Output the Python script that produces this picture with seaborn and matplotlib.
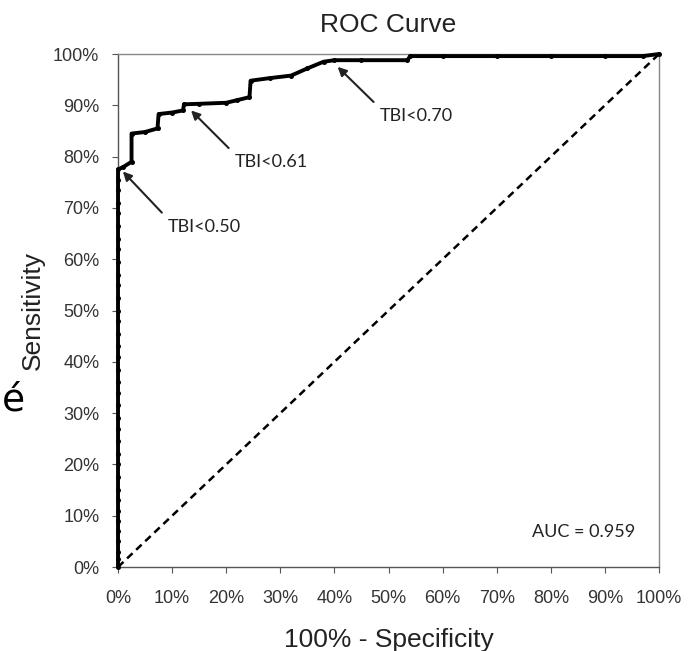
import matplotlib
matplotlib.use("Agg")
import matplotlib.pyplot as plt
import seaborn as sns
import pandas as pd
from matplotlib.ticker import FuncFormatter, MultipleLocator

# ---- data (percent) ----
fpr = [0, 0, 0, 0, 0, 0, 0, 0, 0, 0, 0, 0, 0, 0, 0, 0, 0, 0, 0, 0, 0, 0, 0, 0,
       0, 0, 0, 0, 0, 0, 0, 0, 0, 0, 0, 0,
       1.0, 2.5, 2.5, 5.0, 7.3, 7.5, 10.0, 12.0, 12.2, 15.0, 20.0, 22.0, 24.3,
       24.5, 28.0, 32.0, 35.0, 38.0, 40.0, 45.0, 53.5, 54.0, 60.0, 70.0, 80.0,
       90.0, 97.0, 100.0]
tpr = [0, 1.5, 3, 5, 7, 9, 11, 13, 15, 17.5, 20, 22, 24.5, 27, 29, 31.5, 34, 36,
       38.5, 41, 43, 45.5, 48, 50, 52.5, 55, 57, 59.5, 62, 64, 66.5, 69, 71,
       73.5, 75.5, 77.5,
       78.0, 79.0, 84.5, 84.8, 85.5, 88.3, 88.6, 89.0, 90.2, 90.3, 90.5, 91.0,
       91.6, 94.8, 95.3, 95.8, 97.2, 98.5, 98.8, 98.8, 98.8, 99.6, 99.6, 99.6,
       99.6, 99.6, 99.6, 100.0]
ref_x = [0, 100]
ref_y = [0, 100]

ann_labels = ["TBI<0.50", "TBI<0.61", "TBI<0.70"]
ann_head = [(0.9, 77.1), (13.5, 89.0), (40.6, 97.5)]
ann_text = [(9.2, 66.3), (21.6, 78.9), (48.4, 87.9)]
auc_text = "AUC = 0.959"
side_text = "\u00e9"

# ---- plot ----
sns.set_theme(style="white")
plt.rcParams["font.family"] = ["Liberation Sans", "DejaVu Sans"]

fig = plt.figure(figsize=(6.93, 6.51), dpi=100)
ax = fig.add_axes([0.1703, 0.129, 0.7807, 0.788])

df = pd.DataFrame({"fpr": fpr, "tpr": tpr})
dref = pd.DataFrame({"x": ref_x, "y": ref_y})
sns.lineplot(data=dref, x="x", y="y", ax=ax, color="black", lw=1.8,
             linestyle=(0, (3, 2)), sort=False, estimator=None)
sns.lineplot(data=df, x="fpr", y="tpr", ax=ax, color="black", lw=2.8,
             sort=False, estimator=None, marker="o", markersize=3.6,
             markeredgewidth=0, clip_on=False, zorder=5)

ax.set_xlim(0, 100)
ax.set_ylim(0, 100)
ax.xaxis.set_major_locator(MultipleLocator(10))
ax.yaxis.set_major_locator(MultipleLocator(10))
fmt = FuncFormatter(lambda v, p: f"{int(round(v))}%")
ax.xaxis.set_major_formatter(fmt)
ax.yaxis.set_major_formatter(fmt)
ax.tick_params(axis="both", which="major", length=4.5, width=0.8,
               color="#555555", direction="out", bottom=True, left=True,
               labelsize=13, labelcolor="#333333")
ax.tick_params(axis="x", pad=12)
ax.tick_params(axis="y", pad=9)
for s in ax.spines.values():
    s.set_visible(True)
    s.set_color("#888888")
    s.set_linewidth(1.0)
ax.spines["left"].set_color("#555555")
ax.spines["bottom"].set_color("#555555")

ax.set_xlabel("100% - Specificity", fontsize=19, color="#222222", labelpad=15)
ax.set_ylabel("Sensitivity", fontsize=19, color="#222222", labelpad=6)
ax.set_title("ROC Curve", fontsize=19, color="#222222", pad=16)

for lab, hd, tx in zip(ann_labels, ann_head, ann_text):
    ax.annotate(lab, xy=hd, xytext=tx, fontsize=13, color="#222222",
                family=["Lato", "DejaVu Sans"], ha="left", va="center",
                arrowprops=dict(arrowstyle="-|>", color="#222222", lw=1.5,
                                mutation_scale=13, shrinkA=3, shrinkB=0,
                                relpos=(0, 1)))

ax.text(76.5, 6.8, auc_text, fontsize=13, color="#222222",
        family=["Lato", "DejaVu Sans"], ha="left", va="center")

fig.text(0.002, 0.385, side_text, fontsize=27, color="black",
         family=["DejaVu Sans"], ha="left", va="center")

fig.savefig("out.png", dpi=100)
